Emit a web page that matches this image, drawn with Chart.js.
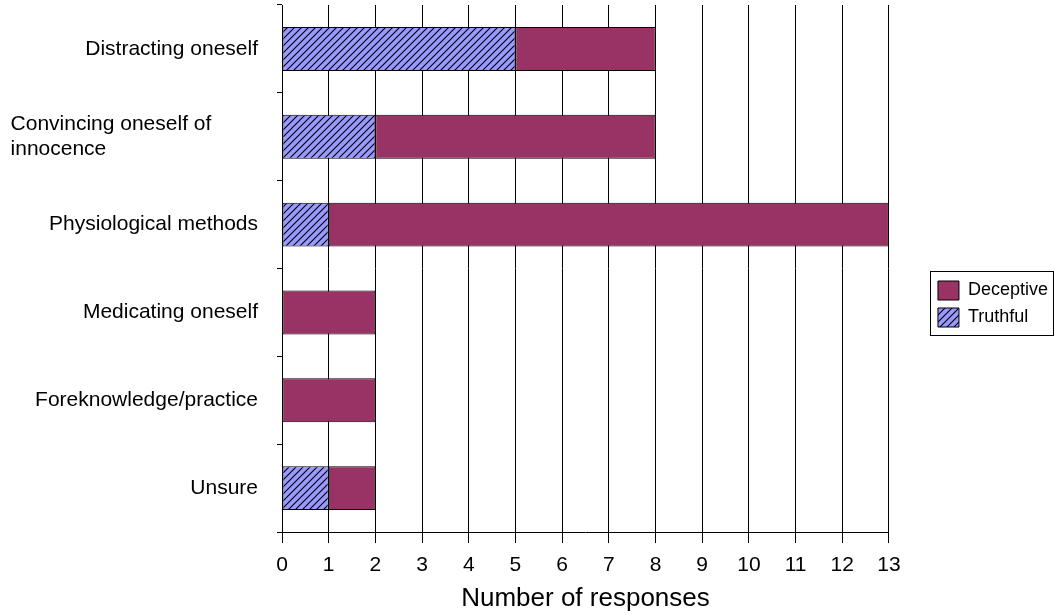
<!DOCTYPE html>
<html>
<head>
<meta charset="utf-8">
<script src="https://cdn.jsdelivr.net/npm/chart.js@4.4.0/dist/chart.umd.min.js"></script>
<style>
  body { margin: 0; background: #fff; }
  #wrap { width: 1054px; height: 615px; }
</style>
</head>
<body>
<div id="wrap"><canvas id="myChart" width="1054" height="615"></canvas></div>
<script>
// values
const categories = [
    'Distracting oneself',
    ['Convincing oneself of' + ' '.repeat(8), 'innocence' + ' '.repeat(26)],
    'Physiological methods',
    'Medicating oneself',
    'Foreknowledge/practice',
    'Unsure',
];
const truthful = [5, 2, 1, 0, 0, 1];
const deceptive = [3, 6, 12, 2, 2, 1];
const xTicks = [0, 1, 2, 3, 4, 5, 6, 7, 8, 9, 10, 11, 12, 13];

const FONT = "'Liberation Sans', Arial, sans-serif";

// blue with black "/" hatching
function hatch() {
    const size = 7;
    const tile = document.createElement('canvas');
    tile.width = size;
    tile.height = size;
    const t = tile.getContext('2d');
    t.fillStyle = '#9999ff';
    t.fillRect(0, 0, size, size);
    t.strokeStyle = '#000';
    t.lineWidth = 1.1;
    t.beginPath();
    t.moveTo(0, size); t.lineTo(size, 0);
    t.moveTo(-1, 1); t.lineTo(1, -1);
    t.moveTo(size - 1, size + 1); t.lineTo(size + 1, size - 1);
    t.stroke();
    return t.createPattern(tile, 'repeat');
}

// move the legend right/up a bit and put a frame round it
const legendFrame = {
    id: 'legendFrame',
    afterLayout(chart) {
        const lg = chart.legend;
        lg.left += 41;
        lg.right += 41;
        lg.top -= 6;
        lg.bottom -= 6;
    },
    afterDraw(chart) {
        const boxes = chart.legend.legendHitBoxes;
        if (!boxes || !boxes.length) return;
        const first = boxes[0], last = boxes[boxes.length - 1];
        const ctx = chart.ctx;
        ctx.save();
        ctx.strokeStyle = '#000';
        ctx.lineWidth = 1;
        const x = Math.round(first.left - 8) + 0.5;
        const y = Math.round(first.top - 10) + 0.5;
        const w = Math.round(Math.max(first.width, last.width) + 13);
        const h = Math.round(last.top - first.top + 37);
        ctx.strokeRect(x, y, w, h);
        ctx.restore();
    }
};

const ctx = document.getElementById('myChart').getContext('2d');

let myChart = new Chart(ctx, {
    type: 'bar',
    data: {
        labels: categories,
        datasets: [{
            label: 'Truthful',
            data: truthful,
            backgroundColor: hatch(),
            borderColor: '#000',
            borderWidth: 1,
            borderSkipped: false,
        }, {
            label: 'Deceptive',
            data: deceptive,
            backgroundColor: '#993366',
            borderColor: '#000',
            borderWidth: 1,
            borderSkipped: false,
        }]
    },
    options: {
        indexAxis: 'y',
        responsive: false,
        animation: false,
        devicePixelRatio: 1,
        categoryPercentage: 1,
        barPercentage: 0.5,
        layout: {
            padding: { top: 5, right: 37, bottom: 0, left: 0 }
        },
        scales: {
            x: {
                stacked: true,
                min: 0,
                max: 13,
                afterBuildTicks: (scale) => {
                    scale.ticks = xTicks.map(v => ({ value: v }));
                },
                afterFit: (scale) => { scale.height = 83; },
                grid: {
                    color: '#000',
                    lineWidth: 1,
                    tickColor: '#000',
                    tickLength: 11,
                },
                border: { display: true, color: '#000', width: 1 },
                ticks: {
                    color: '#000',
                    padding: 10,
                    font: { family: FONT, size: 21 },
                },
                title: {
                    display: true,
                    text: 'Number of responses',
                    color: '#000',
                    font: { family: FONT, size: 26 },
                    padding: { top: 0, bottom: 1 },
                }
            },
            y: {
                stacked: true,
                afterFit: (scale) => {
                    scale.width = 282;
                    scale.paddingTop = 0;
                    scale.paddingBottom = 0;
                },
                grid: {
                    drawOnChartArea: false,
                    drawTicks: true,
                    tickLength: 5,
                    tickColor: '#000',
                    offset: true,
                },
                border: { display: true, color: '#000', width: 1 },
                ticks: {
                    color: '#000',
                    padding: 19,
                    font: { family: FONT, size: 21, lineHeight: 1.15 },
                }
            }
        },
        plugins: {
            legend: {
                position: 'right',
                reverse: true,
                labels: {
                    color: '#000',
                    boxWidth: 21,
                    boxHeight: 19,
                    padding: 8,
                    font: { family: FONT, size: 18 },
                }
            },
            tooltip: { enabled: false }
        }
    },
    plugins: [legendFrame]
});
</script>
</body>
</html>
